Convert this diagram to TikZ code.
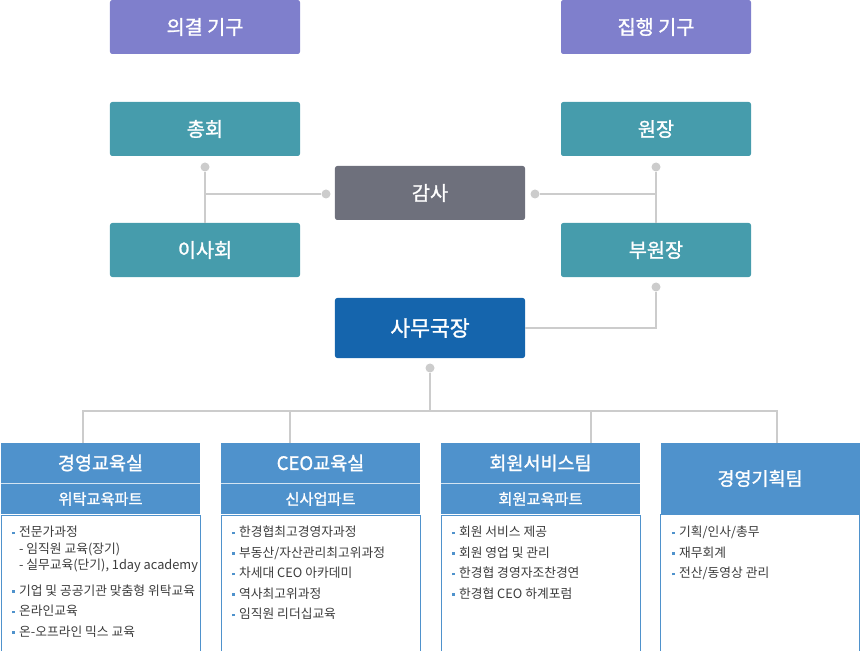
\documentclass[tikz,border=0pt]{standalone}
\usepackage{fontspec}
\setmainfont{Noto Sans CJK KR}
\newfontfamily\titlefont[FakeBold=1.3]{Noto Sans CJK KR}
\usepackage{tikz}
\usepackage{xcolor}
\usetikzlibrary{positioning}
\definecolor{votecolor}{RGB}{127,127,204}
\definecolor{boardcolor}{RGB}{70,156,172}
\definecolor{auditcolor}{RGB}{110,112,124}
\definecolor{chiefcolor}{RGB}{21,101,173}
\definecolor{teamcolor}{RGB}{79,146,204}
\definecolor{linkcolor}{RGB}{204,204,204}
\definecolor{itemcolor}{RGB}{60,60,60}
\newcommand{\blt}{{\color{teamcolor}\rule[0.35ex]{2.4pt}{2.4pt}}\hspace{3.5pt}}
\newcommand{\nob}{\hphantom{\blt}}

\begin{document}
\begin{tikzpicture}[
    x=0.03cm, y=-0.03cm,
    box/.style={rectangle, rounded corners=2pt, minimum width=5.7cm, minimum height=1.62cm, align=center, text=white, font=\titlefont\fontsize{16.8}{20}\selectfont, inner sep=0pt},
    teamhead/.style={rectangle, fill=teamcolor, minimum width=5.97cm, minimum height=1.2cm, text=white, font=\titlefont\fontsize{15.8}{18}\selectfont, inner sep=0pt},
    teamsub/.style={rectangle, fill=teamcolor, minimum width=5.97cm, minimum height=0.93cm, text=white, font=\titlefont\fontsize{13}{15}\selectfont, inner sep=0pt},
    teambody/.style={rectangle, draw=teamcolor, line width=0.8pt, fill=white, minimum width=5.97cm, minimum height=4.11cm, inner sep=0pt},
    items/.style={anchor=north west, align=left, inner sep=0pt, text=itemcolor, font=\fontsize{10.9}{17.5}\selectfont},
    dot/.style={circle, fill=linkcolor, minimum size=0.27cm, inner sep=0pt},
    link/.style={draw=linkcolor, line width=1.6pt},
    sepline/.style={draw=white!75!teamcolor, line width=0.6pt}
]
\useasboundingbox (0,0) rectangle (860,651);

% Headings
\node[box, fill=votecolor] (vote) at (205,27) {의결 기구};
\node[box, fill=votecolor] (exec) at (656,27) {집행 기구};

% Board side
\node[box, fill=boardcolor] (general) at (205,129) {총회};
\node[box, fill=boardcolor] (board) at (205,250) {이사회};

% Executive side
\node[box, fill=boardcolor] (head) at (656,129) {원장};
\node[box, fill=boardcolor] (vicehead) at (656,250) {부원장};

% Audit and secretary general
\node[box, fill=auditcolor] (audit) at (430,193) {감사};
\node[box, fill=chiefcolor, minimum height=1.8cm, font=\titlefont\fontsize{18.4}{22}\selectfont] (chief) at (430,328) {사무국장};

% Dots
\node[dot] (dgeneral) at (205,167) {};
\node[dot] (dauditL) at (326,194) {};
\node[dot] (dauditR) at (535,194) {};
\node[dot] (dhead) at (656,167) {};
\node[dot] (dvice) at (656,287) {};
\node[dot] (dchief) at (430,368) {};

% Links
\draw[link] (dgeneral) -- (board.north);
\draw[link] (dgeneral |- dauditL) -- (dauditL);
\draw[link] (dhead) -- (vicehead.north);
\draw[link] (dauditR) -- (dhead |- dauditR);
\draw[link] (dvice) |- (chief.east);

% Teams
\node[teamhead] (team1) at (100.5,463) {경영교육실};
\node[teamsub, below=0pt of team1] (team1s) {위탁교육파트};
\node[teambody, below=0pt of team1s] (team1b) {};
\node[teamhead] (team2) at (320.5,463) {CEO교육실};
\node[teamsub, below=0pt of team2] (team2s) {신사업파트};
\node[teambody, below=0pt of team2s] (team2b) {};
\node[teamhead] (team3) at (540.5,463) {회원서비스팀};
\node[teamsub, below=0pt of team3] (team3s) {회원교육파트};
\node[teambody, below=0pt of team3s] (team3b) {};
\node[teamhead, minimum height=2.13cm] (team4) at (760,478.5) {경영기획팀};
\node[teambody, below=0pt of team4] (team4b) {};
\foreach \t in {team1,team2,team3}
    \draw[sepline] (\t.south west) -- (\t.south east);

% Tree to teams
\coordinate (bus) at (430,411);
\coordinate (j1) at (83,443);
\coordinate (j2) at (290,443);
\coordinate (j3) at (591,443);
\coordinate (j4) at (777,443);
\draw[link] (dchief) -- (bus);
\draw[link] (j1) |- (bus) -| (j4);
\draw[link] (j2) -- (j2 |- bus);
\draw[link] (j3) -- (j3 |- bus);

% Lists
\node[items] (list1) at (12,526) {\blt 전문가과정\\[-3.6pt]
    \nob - 임직원 교육(장기)\\[-3.6pt]
    \nob - 실무교육(단기), 1day academy\\[4.6pt]
    \blt 기업 및 공공기관 맞춤형 위탁교육\\
    \blt 온라인교육\\
    \blt 온-오프라인 믹스 교육};
\node[items] (list2) at (232,526) {\blt 한경협최고경영자과정\\
    \blt 부동산/자산관리최고위과정\\
    \blt 차세대 CEO 아카데미\\
    \blt 역사최고위과정\\
    \blt 임직원 리더십교육};
\node[items] (list3) at (452,526) {\blt 회원 서비스 제공\\
    \blt 회원 영업 및 관리\\
    \blt 한경협 경영자조찬경연\\
    \blt 한경협 CEO 하계포럼};
\node[items] (list4) at (672,526) {\blt 기획/인사/총무\\
    \blt 재무회계\\
    \blt 전산/동영상 관리};

\end{tikzpicture}
\end{document}
